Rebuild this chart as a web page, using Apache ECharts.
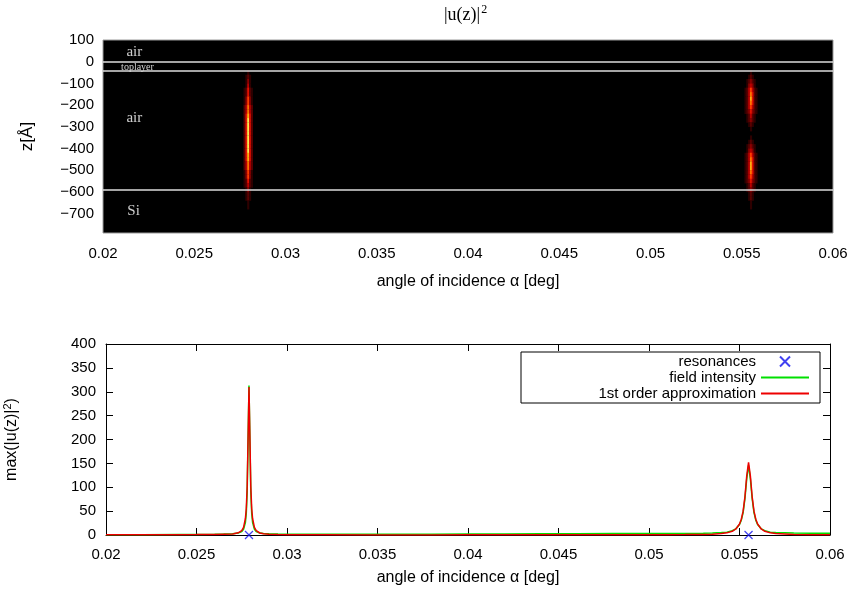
<!DOCTYPE html>
<html><head><meta charset="utf-8">
<script src="https://cdn.jsdelivr.net/npm/echarts@6/dist/echarts.min.js"></script>
<style>html,body{margin:0;padding:0;background:#fff}#c{width:856px;height:592px}</style>
</head><body><div id="c"></div>
<script>
// ---------- data ----------
const angleTicks = [0.02, 0.025, 0.03, 0.035, 0.04, 0.045, 0.05, 0.055, 0.06];
const depthTicks = [100, 0, -100, -200, -300, -400, -500, -600, -700];
const intensityTicks = [0, 50, 100, 150, 200, 250, 300, 350, 400];

// layer interfaces (z in Angstrom)
const interfaceDepths = [0, -40, -590];
const layerNames = ['air', 'toplayer', 'air', 'Si'];
const layerNameDepths = [42, -27, -264, -693];
const layerNameAngles = [0.02131, 0.02102, 0.02131, 0.02136];

// heat map |u(z)|^2 : level 0..9 per cell, rows = depths, columns = angles
const heatDepths = [-50,-70,-90,-110,-130,-150,-170,-190,-210,-230,-250,-270,-290,-310,-330,-350,-370,-390,-410,-430,-450,-470,-490,-510,-530,-550,-570,-590,-610,-630,-650,-670,-690];
const peak1Angles = [0.02765, 0.02775, 0.02785, 0.02795, 0.02805, 0.02815, 0.02825];
const peak1Rows = [
 '0001000','0012100','0013100','0014100','0125210','0125210','0136310','0136310',
 '0247420','0247420','0258520','0259520','0259520','0259520','0259520','0259520',
 '0259520','0259520','0259520','0258520','0258520','0247420','0247420','0136310',
 '0136310','0125210','0124210','0013100','0012100','0012100','0001000','0001000','0000000'];
const peak2Angles = [0.0551, 0.0552, 0.0553, 0.0554, 0.0555, 0.0556, 0.0557, 0.0558, 0.0559];
const peak2Rows = [
 '000010000','000121000','001232100','001343100','012464210','012475210','012485210','012475210',
 '012464210','012353210','001242100','001232100','000121000','000010000','000000000','000010000',
 '000121000','001232100','001343100','012464210','012475210','012485210','012485210','012475210',
 '012464210','012353210','001242100','001232100','000121000','000121000','000010000','000010000','000000000'];

// lower panel
const angles = [0.020,0.022,0.024,0.025,0.026,0.0265,0.027,0.0273,0.0275,0.0276,0.0277,0.02775,0.0278,0.02785,0.0279,0.02795,0.0280,0.02805,0.0281,0.0282,0.0283,0.0285,0.0287,0.0290,0.0295,0.030,0.032,0.035,0.038,0.040,0.042,0.044,0.046,0.048,0.050,0.051,0.052,0.053,0.0535,0.054,0.0543,0.0546,0.0548,0.0550,0.0551,0.0552,0.0553,0.0554,0.0555,0.0556,0.0557,0.0558,0.0559,0.0560,0.0562,0.0564,0.0567,0.057,0.058,0.059,0.060];
const fieldIntensity = [0.5,0.7,1.0,1.2,1.6,2.0,2.6,4,7,12,26,45,90,200,313,200,90,45,26,12,7,4,3,2.5,2,1.8,1.5,1.6,1.8,2.0,2.2,2.5,2.7,2.9,3.0,3.1,3.3,3.6,4,5,6,9,13,22,31,47,76,118,146,118,76,47,31,22,13,9,6,5,4,3.6,3.5];
const firstOrder = [0.3,0.4,0.6,0.8,1.2,1.7,2.0,4.5,9,16,34,55,102,205,310,205,102,55,34,16,9,4.2,2.4,1.5,0.8,0.6,0.3,0.2,0.2,0.3,0.3,0.3,0.3,0.4,0.5,0.6,0.8,1.2,1.8,2.9,4.5,7.8,12.6,23,33,50,80,124,152,124,80,50,33,23,12.6,7.8,4.5,2.9,1.1,0.6,0.4];
const resonanceAngles = [0.0279, 0.0555];
const resonanceValues = [0, 0];

// ---------- build ----------
const heatData = [];
function addPeak(cols, rows) {
  rows.forEach((s, i) => {
    for (let j = 0; j < s.length; j++) {
      const lv = +s[j];
      if (lv > 0) heatData.push([cols[j], heatDepths[i], lv]);
    }
  });
}
addPeak(peak1Angles, peak1Rows);
addPeak(peak2Angles, peak2Rows);

const CELL_DX = 0.0001, CELL_DZ = 20;
function renderCell(params, api) {
  const x = api.value(0), z = api.value(1);
  const p0 = api.coord([x - CELL_DX / 2, z + CELL_DZ / 2]);
  const p1 = api.coord([x + CELL_DX / 2, z - CELL_DZ / 2]);
  const c = api.visual('color');
  return {
    type: 'rect',
    shape: { x: p0[0], y: p0[1], width: p1[0] - p0[0] + 0.3, height: p1[1] - p0[1] + 0.3 },
    style: { fill: c }
  };
}

const SANS = 'Liberation Sans, Arial, sans-serif';
const SERIF = 'Liberation Serif, Times New Roman, serif';
const fmtAngle = v => String(+v.toFixed(4));
const fmtMinus = v => (v < 0 ? '\u2212' + Math.abs(v) : String(v));

const lineData = (ys) => angles.map((a, i) => [a, ys[i]]);
const noSymbol = { color: 'rgba(0,0,0,0)', borderWidth: 0, opacity: 0 };

const option = {
  animation: false,
  backgroundColor: '#fff',
  graphic: [{
    type: 'text', left: 444, top: 4,
    style: {
      text: '{a||u(z)|}{s|2}',
      rich: {
        a: { fontFamily: SERIF, fontSize: 18, fill: '#000' },
        s: { fontFamily: SERIF, fontSize: 12, fill: '#000', padding: [0, 0, 10, 1] }
      }
    }
  }],
  grid: [
    { left: 103, right: 23, top: 40, height: 193, show: true, backgroundColor: '#000', borderColor: '#9a9a9a', borderWidth: 1, outerBoundsMode: 'none', containLabel: false },
    { left: 106, right: 26, top: 344, height: 191, outerBoundsMode: 'none', containLabel: false }
  ],
  visualMap: [{
    type: 'continuous', show: false, seriesIndex: 0, dimension: 2, min: 0, max: 9,
    inRange: { color: ['#000000', '#2e0000', '#5a0000', '#8c0000', '#bb0000', '#e41000', '#ff3a00', '#ff7400', '#ffae10', '#ffe850'] }
  }],
  xAxis: [
    { gridIndex: 0, type: 'value', min: 0.02, max: 0.06, interval: 0.005,
      name: 'angle of incidence \u03b1 [deg]', nameLocation: 'middle', nameGap: 41,
      nameTextStyle: { fontFamily: SANS, fontSize: 16, color: '#000' },
      axisLine: { show: false }, axisTick: { show: false }, splitLine: { show: false },
      axisLabel: { fontFamily: SANS, fontSize: 15, color: '#000', margin: 13, formatter: fmtAngle } },
    { gridIndex: 1, type: 'value', min: 0.02, max: 0.06, interval: 0.005,
      name: 'angle of incidence \u03b1 [deg]', nameLocation: 'middle', nameGap: 35,
      nameTextStyle: { fontFamily: SANS, fontSize: 16, color: '#000' },
      axisLine: { show: true, onZero: false, lineStyle: { color: '#000', width: 1 } },
      axisTick: { show: true, inside: true, length: 7, lineStyle: { color: '#000' } },
      splitLine: { show: false },
      axisLabel: { fontFamily: SANS, fontSize: 15, color: '#000', margin: 12, formatter: fmtAngle } },
    { gridIndex: 1, type: 'value', position: 'top', min: 0.02, max: 0.06, interval: 0.005,
      axisLine: { show: true, onZero: false, lineStyle: { color: '#000', width: 1 } },
      axisTick: { show: true, inside: true, length: 7, lineStyle: { color: '#000' } },
      axisLabel: { show: false }, splitLine: { show: false } }
  ],
  yAxis: [
    { gridIndex: 0, type: 'value', min: -790, max: 100,
      name: 'z[\u00c5]', nameLocation: 'middle', nameGap: 67,
      nameTextStyle: { fontFamily: SANS, fontSize: 17, color: '#000' },
      axisLine: { show: false }, axisTick: { show: false }, splitLine: { show: false },
      axisLabel: { fontFamily: SANS, fontSize: 15, color: '#000', margin: 9, customValues: depthTicks, formatter: fmtMinus } },
    { gridIndex: 1, type: 'value', min: 0, max: 400, interval: 50,
      name: '{a|max(|u(z)|}{s|2}{a|)}', nameLocation: 'middle', nameGap: 84,
      nameTextStyle: { color: '#000', rich: {
        a: { fontFamily: SANS, fontSize: 16, color: '#000' },
        s: { fontFamily: SANS, fontSize: 11, color: '#000', padding: [0, 0, 9, 0] } } },
      axisLine: { show: true, onZero: false, lineStyle: { color: '#000', width: 1 } },
      axisTick: { show: true, inside: true, length: 7, lineStyle: { color: '#000' } },
      splitLine: { show: false },
      axisLabel: { fontFamily: SANS, fontSize: 15, color: '#000', margin: 10 } },
    { gridIndex: 1, type: 'value', position: 'right', min: 0, max: 400, interval: 50,
      axisLine: { show: true, onZero: false, lineStyle: { color: '#000', width: 1 } },
      axisTick: { show: true, inside: true, length: 7, lineStyle: { color: '#000' } },
      axisLabel: { show: false }, splitLine: { show: false } }
  ],
  legend: {
    orient: 'vertical', right: 36, top: 352,
    backgroundColor: '#fff', borderColor: '#000', borderWidth: 1,
    padding: [2, 10, 2, 5], itemGap: 1, itemWidth: 48, itemHeight: 10, align: 'right',
    textStyle: { fontFamily: SANS, fontSize: 15, color: '#000', width: 230, align: 'right', lineHeight: 15 },
    data: [
      { name: 'resonances' },
      { name: 'field intensity', itemStyle: noSymbol },
      { name: '1st order approximation', itemStyle: noSymbol }
    ]
  },
  series: [
    { type: 'custom', name: 'heat', xAxisIndex: 0, yAxisIndex: 0, data: heatData,
      encode: { x: 0, y: 1 }, renderItem: renderCell, clip: true, silent: true,
      markLine: { silent: true, symbol: 'none', label: { show: false },
        lineStyle: { color: '#dcdcdc', width: 1.6, type: 'solid' },
        data: interfaceDepths.map(d => ({ yAxis: d })) } },
    { type: 'scatter', name: 'layers', xAxisIndex: 0, yAxisIndex: 0, symbolSize: 1,
      itemStyle: { color: 'rgba(0,0,0,0)' }, silent: true,
      data: layerNames.map((n, i) => ({ value: [layerNameAngles[i], layerNameDepths[i]], name: n,
        label: n === 'toplayer' ? { fontSize: 10 } : undefined })),
      label: { show: true, position: [0, 0], align: 'left', verticalAlign: 'middle',
        formatter: p => p.name, color: '#fff', fontFamily: SERIF, fontSize: 15 } },
    { type: 'line', name: 'field intensity', xAxisIndex: 1, yAxisIndex: 1, data: lineData(fieldIntensity),
      symbol: 'none', lineStyle: { color: '#00e000', width: 1.5 }, itemStyle: { color: '#00e000' } },
    { type: 'line', name: '1st order approximation', xAxisIndex: 1, yAxisIndex: 1, data: lineData(firstOrder),
      symbol: 'none', lineStyle: { color: '#ee0000', width: 1.5 }, itemStyle: { color: '#ee0000' } },
    { type: 'scatter', name: 'resonances', xAxisIndex: 1, yAxisIndex: 1,
      data: resonanceAngles.map((a, i) => [a, resonanceValues[i]]),
      symbol: 'path://M0,0L10,10M10,0L0,10', symbolSize: 8, clip: false,
      itemStyle: { color: 'rgba(0,0,0,0)', borderColor: '#1010ee', borderWidth: 1.2 } }
  ]
};

const chart = echarts.init(document.getElementById('c'), null, { renderer: 'canvas' });
chart.setOption(option);
</script>
</body></html>
